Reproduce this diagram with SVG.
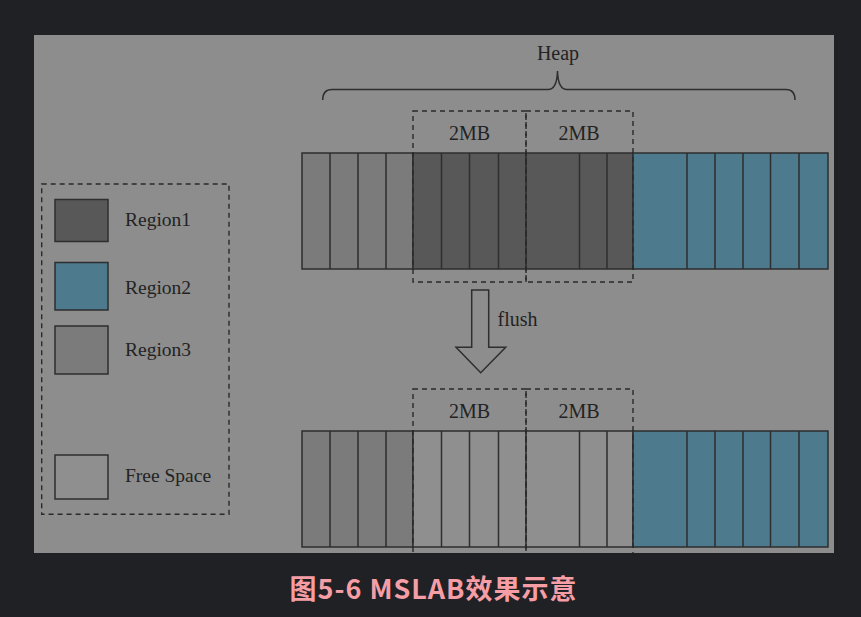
<svg xmlns="http://www.w3.org/2000/svg" width="861" height="617" viewBox="0 0 861 617">
<style>
.t{font-family:"Liberation Serif","Times New Roman",serif;font-size:20px;fill:#232323}
.lg{font-size:19.5px}
.cell{stroke:#2e2e2e;stroke-width:1.5}
.r1{fill:#585858}
.r2{fill:#4e7a8e}
.r3{fill:#7b7b7b}
.fs{fill:#8f8f8f}
.dash{fill:none;stroke:#2a2a2a;stroke-width:1.4;stroke-dasharray:5 4}
.ln{fill:none;stroke:#2e2e2e;stroke-width:1.5}
</style>
<defs>
<clipPath id="panel"><rect x="34" y="35" width="800" height="518"/></clipPath>
</defs>
<rect width="861" height="617" fill="#202124"/>
<rect x="34" y="35" width="800" height="518" fill="#8d8d8d"/>

<g id="heap">
<text class="t" x="558" y="59.5" text-anchor="middle">Heap</text>
<path class="ln" d="M322.7,100 Q322.7,89.5 332,89.5 L548,89.5 Q557,89.5 557.5,71 Q558,89.5 567,89.5 L786,89.5 Q795,89.5 795,100"/>
</g>

<g id="legend">
<rect class="dash" x="41.7" y="184" width="187.3" height="330.3"/>
<rect class="cell r1" x="55" y="199.5" width="53" height="42"/>
<text class="t lg" x="125" y="226">Region1</text>
<rect class="cell r2" x="55" y="262.5" width="53" height="47.5"/>
<text class="t lg" x="125" y="294">Region2</text>
<rect class="cell r3" x="55" y="326" width="53" height="48"/>
<text class="t lg" x="125" y="356">Region3</text>
<rect class="cell fs" x="55" y="455" width="53" height="44"/>
<text class="t lg" x="125" y="482">Free Space</text>
</g>

<g id="row-top">
<rect class="cell r3" x="302" y="153" width="111" height="116"/>
<rect class="cell r1" x="413" y="153" width="220" height="116"/>
<rect class="cell r2" x="633" y="153" width="195" height="116"/>
<path class="ln" d="M330,153V269M358,153V269M386,153V269M441.5,153V269M469.5,153V269M498.5,153V269M526,153V269M579.5,153V269M607,153V269M687,153V269M715,153V269M743,153V269M770.5,153V269M799,153V269"/>
</g>

<g id="mb-top">
<rect class="dash" x="413" y="111" width="113" height="171"/>
<rect class="dash" x="526" y="111" width="107" height="171"/>
<text class="t" x="469.5" y="140" text-anchor="middle">2MB</text>
<text class="t" x="579" y="140" text-anchor="middle">2MB</text>
</g>

<g id="row-bottom">
<rect class="cell r3" x="302" y="431" width="111" height="116"/>
<rect class="cell fs" x="413" y="431" width="220" height="116"/>
<rect class="cell r2" x="633" y="431" width="195" height="116"/>
<path class="ln" d="M330,431V547M358,431V547M386,431V547M441.5,431V547M469.5,431V547M498.5,431V547M526,431V547M579.5,431V547M607,431V547M687,431V547M715,431V547M743,431V547M770.5,431V547M799,431V547"/>
</g>

<g id="mb-bottom" clip-path="url(#panel)">
<rect class="dash" x="413" y="389" width="113" height="180"/>
<rect class="dash" x="526" y="389" width="107" height="180"/>
<text class="t" x="469.5" y="418" text-anchor="middle">2MB</text>
<text class="t" x="579" y="418" text-anchor="middle">2MB</text>
</g>

<g id="connectors">
<path class="ln" fill="none" d="M471.7,290 H488.7 V347.3 H505.7 L480.7,372.7 L456,347.3 H471.7 Z"/>
<text class="t" x="497.5" y="326">flush</text>
</g>

<text x="433.5" y="599" text-anchor="middle" style="font-family:'Noto Sans CJK SC','Noto Sans',sans-serif;font-size:27px;font-weight:bold;letter-spacing:1px;fill:#f59ea6">图5-6 MSLAB效果示意</text>
</svg>
